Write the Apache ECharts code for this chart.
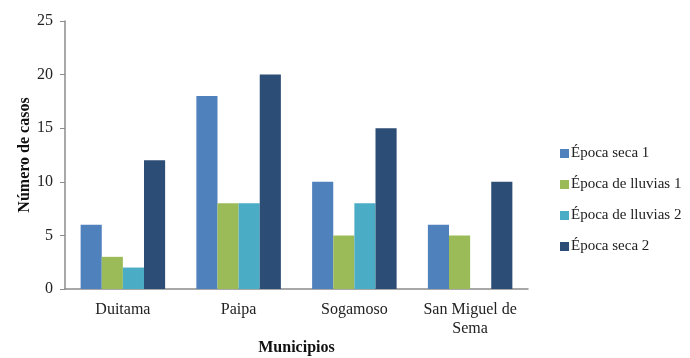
<!DOCTYPE html>
<html>
<head>
<meta charset="utf-8">
<script src="https://cdn.jsdelivr.net/npm/echarts@6/dist/echarts.min.js"></script>
<style>
  html, body { margin: 0; padding: 0; background: #fff; }
  #chart { width: 690px; height: 358px; }
</style>
</head>
<body>
<div id="chart"></div>
<script>
const municipios = ['Duitama', 'Paipa', 'Sogamoso', 'San Miguel de\nSema']
const seriesNames = ['Época seca 1', 'Época de lluvias 1', 'Época de lluvias 2', 'Época seca 2']
const secaUno = [6, 18, 10, 6]
const lluviasUno = [3, 8, 5, 5]
const lluviasDos = [2, 8, 8, 0]
const secaDos = [12, 20, 15, 10]
const colors = ['#4F81BD', '#9BBB59', '#4BACC6', '#2C4D75']

const font = '"Liberation Serif", "DejaVu Serif", serif'
const values = [secaUno, lluviasUno, lluviasDos, secaDos]

const chart = echarts.init(document.getElementById('chart'))
chart.setOption({
  backgroundColor: '#fff',
  animation: false,
  textStyle: { fontFamily: font },
  color: colors,
  grid: { left: 65, right: 162, top: 21, bottom: 69, outerBoundsMode: 'none' },
  legend: {
    orient: 'vertical',
    left: 555,
    top: 141,
    itemWidth: 9,
    itemHeight: 9,
    itemGap: 16,
    icon: 'rect',
    textStyle: { fontFamily: font, fontSize: 15, color: '#222', padding: [0, 0, 0, -3] },
    data: seriesNames
  },
  xAxis: {
    type: 'category',
    data: municipios,
    name: 'Municipios',
    nameLocation: 'middle',
    nameGap: 51,
    nameMoveOverlap: false,
    nameTextStyle: { fontFamily: font, fontSize: 16, fontWeight: 'bold', color: '#111' },
    axisLine: { lineStyle: { color: '#8c8c8c', width: 1.5 } },
    axisTick: { show: false },
    axisLabel: { interval: 0, fontFamily: font, fontSize: 16, color: '#222', margin: 11, lineHeight: 19 }
  },
  yAxis: {
    type: 'value',
    min: 0,
    max: 25,
    interval: 5,
    name: 'Número de casos',
    nameLocation: 'middle',
    nameGap: 32,
    nameMoveOverlap: false,
    nameTextStyle: { fontFamily: font, fontSize: 16, fontWeight: 'bold', color: '#111' },
    axisLine: { show: true, lineStyle: { color: '#8c8c8c', width: 1.5 } },
    axisTick: { show: true, length: 5, lineStyle: { color: '#8c8c8c' } },
    splitLine: { show: false },
    axisLabel: { fontFamily: font, fontSize: 16, color: '#222', margin: 12 }
  },
  series: seriesNames.map((name, i) => ({
    name,
    type: 'bar',
    data: values[i],
    barGap: '0%',
    barCategoryGap: '27%',
    itemStyle: { color: colors[i] }
  }))
})
</script>
</body>
</html>
